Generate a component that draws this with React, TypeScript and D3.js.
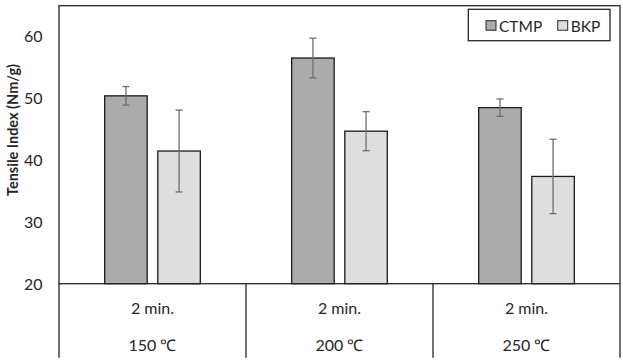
import React from "react";
import * as d3 from "d3";

const categories = ["150 ℃", "200 ℃", "250 ℃"];
const timeLabels = ["2 min.", "2 min.", "2 min."];
const seriesNames = ["CTMP", "BKP"];
const ctmpValues = [50.3, 56.4, 48.4];
const ctmpErrors = [1.5, 3.2, 1.4];
const bkpValues = [41.4, 44.6, 37.3];
const bkpErrors = [6.6, 3.15, 6.0];
const yTicks = [20, 30, 40, 50, 60];

const W = 623;
const H = 362;
const left = 59;
const right = 620;
const top = 5.7;
const axisY = 283.7;
const bottom = 357.7;
const font = "Lato, 'Open Sans', sans-serif";
const colors = ["#ababab", "#dedede"];

export default function App() {
  const y = d3.scaleLinear().domain([20, 65]).range([axisY, axisY - 45 * 6.2]);
  const x = d3.scaleBand().domain(categories).range([left, right]).padding(0);
  const inner = d3
    .scaleBand()
    .domain(seriesNames)
    .range([0, x.bandwidth()])
    .paddingInner(0.2)
    .paddingOuter(0.86);
  const series = [
    { name: "CTMP", values: ctmpValues, errors: ctmpErrors },
    { name: "BKP", values: bkpValues, errors: bkpErrors },
  ];
  const bw = inner.bandwidth();
  return (
    <svg
      width={W}
      height={H}
      style={{ position: "absolute", left: 0, top: 0, display: "block", background: "#fff" }}
      fontFamily={font}
    >
      <rect x={0} y={0} width={W} height={H} fill="#fff" />
      {series.map((s, si) =>
        s.values.map((v, i) => {
          const bx = (x(categories[i]) as number) + (inner(s.name) as number);
          const cx = bx + bw / 2;
          const e = s.errors[i];
          return (
            <g key={s.name + i}>
              <rect
                x={bx}
                y={y(v)}
                width={bw}
                height={axisY - y(v)}
                fill={colors[si]}
                stroke="#1a1a1a"
                strokeWidth={1.3}
              />
              <line x1={cx} x2={cx} y1={y(v + e)} y2={y(v - e)} stroke="#6e6e6e" strokeWidth={1.3} />
              <line x1={cx - 3.5} x2={cx + 3.5} y1={y(v + e)} y2={y(v + e)} stroke="#6e6e6e" strokeWidth={1.3} />
              <line x1={cx - 3.5} x2={cx + 3.5} y1={y(v - e)} y2={y(v - e)} stroke="#6e6e6e" strokeWidth={1.3} />
            </g>
          );
        })
      )}
      <rect x={left} y={top} width={right - left} height={axisY - top} fill="none" stroke="#262626" strokeWidth={1.3} />
      {[...categories.map((c) => x(c) as number), right].map((d, i) => (
        <line key={"div" + i} x1={d} x2={d} y1={axisY} y2={bottom} stroke="#262626" strokeWidth={1.3} />
      ))}
      {categories.map((c, i) => {
        const cx = (x(c) as number) + x.bandwidth() / 2;
        return (
          <g key={"cl" + i} fontSize={16} fill="#262626" textAnchor="middle">
            <text x={cx} y={307} dominantBaseline="central">
              {timeLabels[i]}
            </text>
            <text x={cx} y={344} dominantBaseline="central">
              {c}
            </text>
          </g>
        );
      })}
      {yTicks.map((t) => (
        <text key={t} x={42.5} y={y(t)} textAnchor="end" dominantBaseline="central" fontSize={16} fill="#262626">
          {t}
        </text>
      ))}
      <text
        transform={`translate(12.5,130) rotate(-90)`}
        textAnchor="middle"
        dominantBaseline="central"
        fontSize={14.5}
        fontWeight="bold"
        fill="#262626"
      >
        Tensile Index (Nm/g)
      </text>
      <rect x={468.3} y={9.3} width={141.7} height={31.4} fill="#fff" stroke="#262626" strokeWidth={1.3} />
      {seriesNames.map((n, i) => {
        const sx = i === 0 ? 486 : 557.7;
        return (
          <g key={n}>
            <rect x={sx} y={20.7} width={10} height={9.5} fill={colors[i]} stroke="#262626" strokeWidth={1} />
            <text x={sx + 13} y={25.5} dominantBaseline="central" fontSize={15.5} fill="#262626">
              {n}
            </text>
          </g>
        );
      })}
    </svg>
  );
}
